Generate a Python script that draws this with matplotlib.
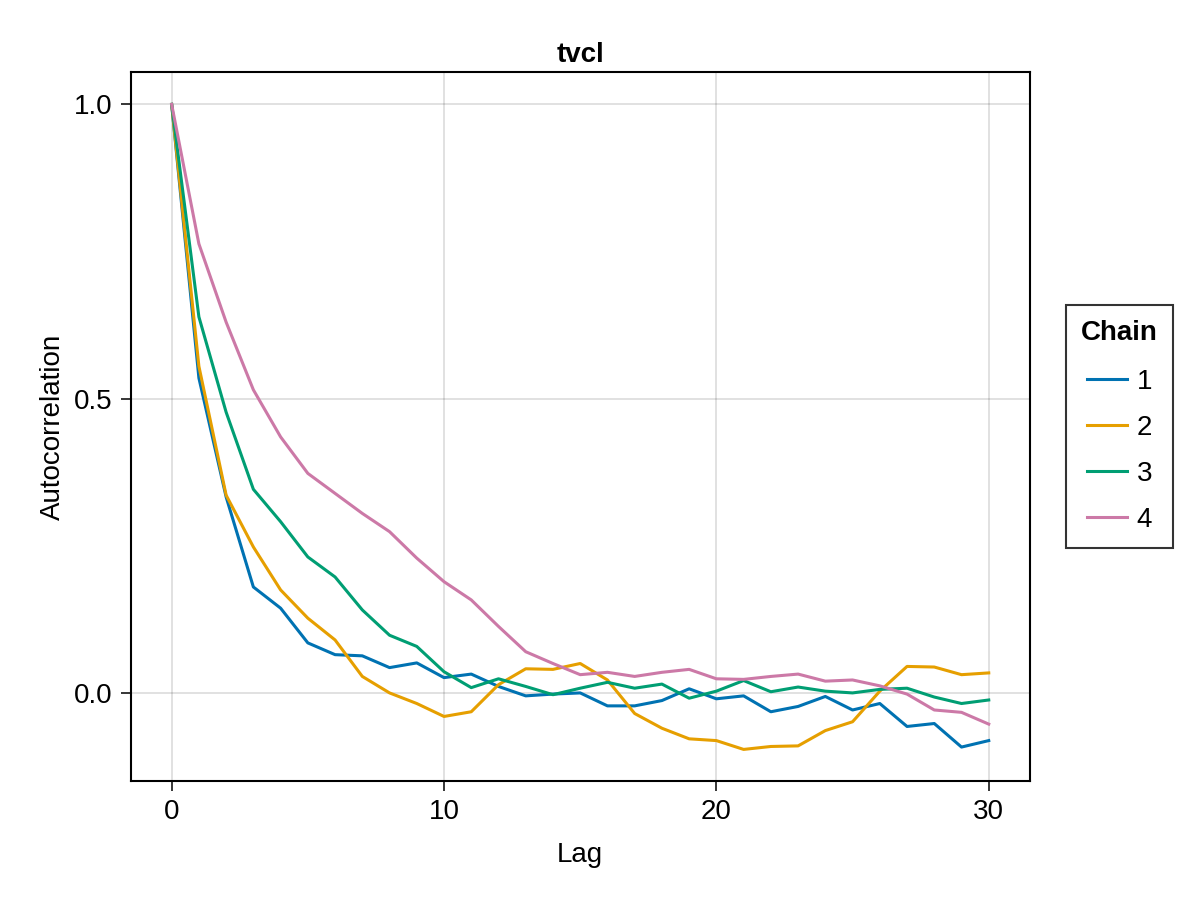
"""
Autocorrelation plot for tvcl chains.
"""

import numpy as np
import matplotlib
matplotlib.use('Agg')
import matplotlib.pyplot as plt

###

lags = np.arange(31)

chain1 = [1.0, 0.535, 0.333, 0.180, 0.144, 0.085, 0.065, 0.063, 0.043, 0.051,
          0.026, 0.032, 0.011, -0.005, -0.002, 0.0, -0.022, -0.022, -0.013, 0.007,
          -0.010, -0.005, -0.032, -0.023, -0.006, -0.029, -0.018, -0.057, -0.052,
          -0.092, -0.081]
chain2 = [1.0, 0.555, 0.336, 0.248, 0.175, 0.127, 0.090, 0.028, 0.0, -0.018,
          -0.040, -0.032, 0.014, 0.041, 0.040, 0.050, 0.022, -0.035, -0.060, -0.078,
          -0.081, -0.096, -0.091, -0.090, -0.064, -0.049, 0.003, 0.045, 0.044,
          0.031, 0.034]
chain3 = [1.0, 0.639, 0.477, 0.346, 0.291, 0.231, 0.197, 0.141, 0.098, 0.079,
          0.036, 0.009, 0.024, 0.011, -0.003, 0.008, 0.018, 0.008, 0.015, -0.009,
          0.003, 0.021, 0.002, 0.010, 0.003, 0.0, 0.006, 0.008, -0.007, -0.018,
          -0.012]
chain4 = [1.0, 0.763, 0.630, 0.515, 0.435, 0.373, 0.339, 0.305, 0.274, 0.229,
          0.189, 0.158, 0.113, 0.070, 0.050, 0.031, 0.035, 0.028, 0.035, 0.040,
          0.024, 0.023, 0.028, 0.032, 0.020, 0.022, 0.012, -0.002, -0.029, -0.033,
          -0.053]

chain_labels = ['1', '2', '3', '4']
colors = ['#0072B2', '#E69F00', '#009E73', '#CC79A7']

plt.rcParams['font.family'] = ['Liberation Sans', 'DejaVu Sans']
plt.rcParams['font.size'] = 20

fig = plt.figure(figsize=(12, 9), dpi=100)
ax = fig.add_axes([0.109, 0.132, 0.749, 0.788])

for ys, lab, c in zip([chain1, chain2, chain3, chain4], chain_labels, colors):
    ax.plot(lags, ys, color=c, linewidth=2.2, label=lab)

ax.set_xlim(-1.5, 31.5)
ax.set_ylim(-0.15, 1.055)
ax.set_xticks([0, 10, 20, 30])
ax.set_yticks([0.0, 0.5, 1.0])
ax.set_yticklabels(['0.0', '0.5', '1.0'])
ax.grid(True, color='black', alpha=0.12, linewidth=1.4)
ax.set_axisbelow(True)
for s in ax.spines.values():
    s.set_linewidth(1.5)
ax.tick_params(direction='out', length=7, width=1.1, labelsize=20, pad=6)

ax.set_xlabel('Lag', fontsize=20, labelpad=12)
ax.set_ylabel('Autocorrelation', fontsize=20, labelpad=6)
ax.set_title('tvcl', fontsize=20, fontweight='bold', pad=7)

leg = ax.legend(title='Chain', loc='center left', bbox_to_anchor=(1.04, 0.5),
                borderaxespad=0, frameon=True, fancybox=False,
                edgecolor='black', fontsize=20,
                title_fontproperties={'weight': 'bold', 'size': 20},
                handlelength=1.45, handletextpad=0.35, labelspacing=0.72,
                borderpad=0.55)
leg.get_frame().set_linewidth(1.5)
leg._legend_box.sep = 16

fig.savefig('out.png', dpi=100)
